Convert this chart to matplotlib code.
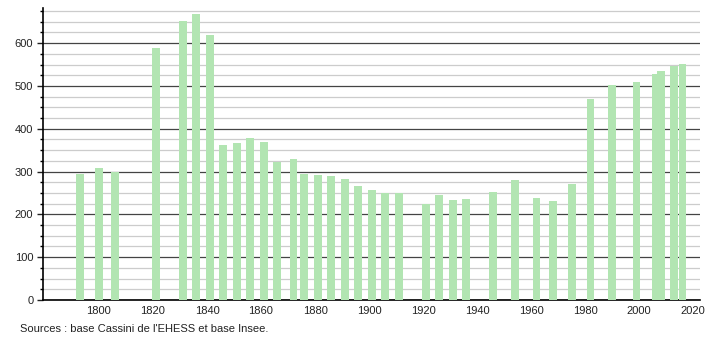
import matplotlib
matplotlib.use("Agg")
import matplotlib.pyplot as plt
from matplotlib.ticker import MultipleLocator

plt.rcParams['font.family'] = ['Liberation Sans', 'DejaVu Sans']

# population par recensement
years = [1793, 1800, 1806, 1821, 1831, 1836, 1841, 1846, 1851, 1856,
         1861, 1866, 1872, 1876, 1881, 1886, 1891, 1896, 1901, 1906,
         1911, 1921, 1926, 1931, 1936, 1946, 1954, 1962, 1968, 1975,
         1982, 1990, 1999, 2006, 2008, 2013, 2016]
population = [294, 308, 299, 588, 651, 668, 619, 362, 367, 378,
              369, 323, 329, 294, 292, 290, 282, 266, 257, 249,
              249, 224, 245, 233, 236, 252, 280, 238, 231, 272,
              469, 502, 509, 528, 535, 546, 551]
xticks = [1800, 1820, 1840, 1860, 1880, 1900, 1920, 1940, 1960, 1980, 2000, 2020]
source = "Sources : base Cassini de l'EHESS et base Insee."

fig = plt.figure(figsize=(7.1, 3.4), dpi=100)
ax = fig.add_axes([43 / 710, 40 / 340, 657 / 710, 292 / 340])

ax.bar(years, population, width=2.85, color='#b2e5b2', zorder=3)

ax.set_xlim(1779.3, 2022.5)
ax.set_ylim(0, 682)
ax.set_xticks(xticks)
ax.yaxis.set_major_locator(MultipleLocator(100))
ax.yaxis.set_minor_locator(MultipleLocator(25))

ax.grid(axis='y', which='major', color='#444444', linewidth=0.9, zorder=1)
ax.grid(axis='y', which='minor', color='#cccccc', linewidth=0.9, zorder=1)

for s in ['top', 'right']:
    ax.spines[s].set_visible(False)
ax.spines['left'].set_linewidth(1.2)
ax.spines['bottom'].set_linewidth(1.2)

ax.tick_params(axis='x', length=0, labelsize=8, pad=4, colors='#222222')
ax.tick_params(axis='y', which='major', length=4, width=1, labelsize=8, pad=3, colors='#222222')
ax.tick_params(axis='y', which='minor', length=2, width=1)

fig.text(20 / 710, 1 - 329 / 340, source, fontsize=8, color='#222222',
         ha='left', va='center')

fig.savefig('out.png', dpi=100)
